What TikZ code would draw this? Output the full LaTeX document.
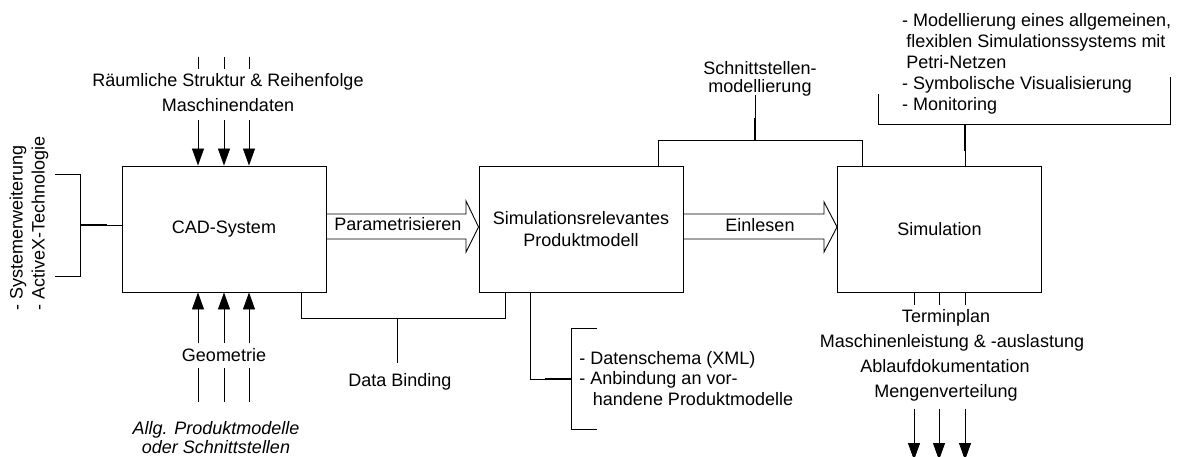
\documentclass[tikz,border=0pt]{standalone}
\usepackage{fontspec}
\setmainfont{Liberation Sans}
\usetikzlibrary{arrows.meta}
\newcommand\diafont{\fontsize{18}{22}\selectfont}
\begin{document}
\begin{tikzpicture}[x=1pt,y=-1pt,line width=0.9pt,
  every node/.style={font=\diafont, inner sep=0pt},
  block/.style={draw, minimum width=204pt, minimum height=126pt, align=center},
  lbl/.style={anchor=base},
  lbll/.style={anchor=base west},
  arr/.style={-{Triangle[length=17pt,width=12pt]}},
  heavy/.style={line width=1.7pt},
  fat/.style={draw, line join=miter}]
\useasboundingbox (0,0) rectangle (1178,457);
\clip (0,0) rectangle (1178,457);

% main blocks
\node[block] (cad) at (224,229) {CAD-System};
\node[block] (prod) at (581,229) {Simulationsrelevantes\\Produktmodell};
\node[block] (sim) at (939.5,229) {Simulation};

% block arrows between the blocks
\draw[fat] (cad.east |- 0,214) -- (466,214) -- (466,201) -- (prod.west |- 0,227)
  -- (466,252) -- (466,239) -- (cad.east |- 0,239);
\node[lbl] (param) at (398,231) {Parametrisieren};
\draw[fat] (prod.east |- 0,214) -- (824,214) -- (824,202) -- (sim.west |- 0,227)
  -- (824,252) -- (824,239) -- (prod.east |- 0,239);
\node[lbl] (einl) at (760,232) {Einlesen};

% inputs from above into the CAD system
\foreach \x [count=\i] in {198,224,249} {
  \draw (\x,57) -- (\x,69);
  \coordinate (cin\i) at (\x,120);
  \draw[arr] (cin\i) -- (cin\i |- cad.north);
}
\node[lbl] (raum) at (228,87) {Räumliche Struktur \& Reihenfolge};
\node[lbl] (masch) at (228,112) {Maschinendaten};

% inputs from below into the CAD system
\foreach \x [count=\i] in {198,224,249} {
  \coordinate (gin\i) at (\x,343);
  \draw[arr] (gin\i) -- (gin\i |- cad.south);
  \draw (\x,368) -- (\x,402);
}
\node[lbl] (geo) at (224,361) {Geometrie};
\node[lbl, font=\diafont\itshape] (allg1) at (216,434) {Allg. Produktmodelle};
\node[lbl, font=\diafont\itshape] (allg2) at (216,453) {oder Schnittstellen};

% left bracket: system extension
\draw (55,174) -- (80,174) -- (80,276) -- (55,276);
\coordinate (lb) at (80,225);
\draw (lb) -- (lb -| cad.west);
\draw[heavy] (lb) -- (107,225);
\node[rotate=90, anchor=west, align=left] (ext) at (29,311)
  {- Systemerweiterung\\- ActiveX-Technologie};

% interface modelling bracket
\draw (prod.north -| 658,0) -- (658,140) -- (862,140) -- (sim.north -| 862,0);
\coordinate (sm) at (755,140);
\draw (sm) -- (755,95);
\draw[heavy] (sm) -- (755,118);
\node[lbl] (schn1) at (760,75) {Schnittstellen-};
\node[lbl] (schn2) at (760,93) {modellierung};

% simulation features bracket
\draw (878,94) -- (878,124) -- (1170,124) -- (1170,77);
\coordinate (tm) at (965,124);
\draw (tm) -- (tm |- sim.north);
\draw[heavy] (tm) -- (965,151);
\node[lbll] (f1) at (901.7,27) {- Modellierung eines allgemeinen,};
\node[lbll] (f2) at (906,48) {flexiblen Simulationssystems mit};
\node[lbll] (f3) at (906,69) {Petri-Netzen};
\node[lbll] (f4) at (901.7,90) {- Symbolische Visualisierung};
\node[lbll] (f5) at (901.7,111) {- Monitoring};

% simulation outputs
\foreach \x [count=\i] in {914,939,965} {
  \draw (sim.south -| \x,0) -- (\x,305);
  \coordinate (out\i) at (\x,409);
  \draw[arr] (out\i) -- (\x,460);
}
\node[lbl] (o1) at (946,322) {Terminplan};
\node[lbl] (o2) at (952,347) {Maschinenleistung \& -auslastung};
\node[lbl] (o3) at (945,372.5) {Ablaufdokumentation};
\node[lbl] (o4) at (946,397.5) {Mengenverteilung};

% data binding bracket
\draw (cad.south -| 301,0) -- (301,318) -- (505,318) -- (prod.south -| 505,0);
\coordinate (dbm) at (397,318);
\draw (dbm) -- (397,363);
\node[lbl] (db) at (400,386) {Data Binding};

% data schema bracket
\draw (prod.south -| 530,0) -- (530,379) -- (571,379);
\draw[heavy] (545,379) -- (571,379);
\draw (597,328) -- (571,328) -- (571,429) -- (597,429);
\node[lbll] (d1) at (579,364) {- Datenschema (XML)};
\node[lbll] (d2) at (579,384) {- Anbindung an vor-};
\node[lbll] (d3) at (592.5,405) {handene Produktmodelle};
\end{tikzpicture}
\end{document}
